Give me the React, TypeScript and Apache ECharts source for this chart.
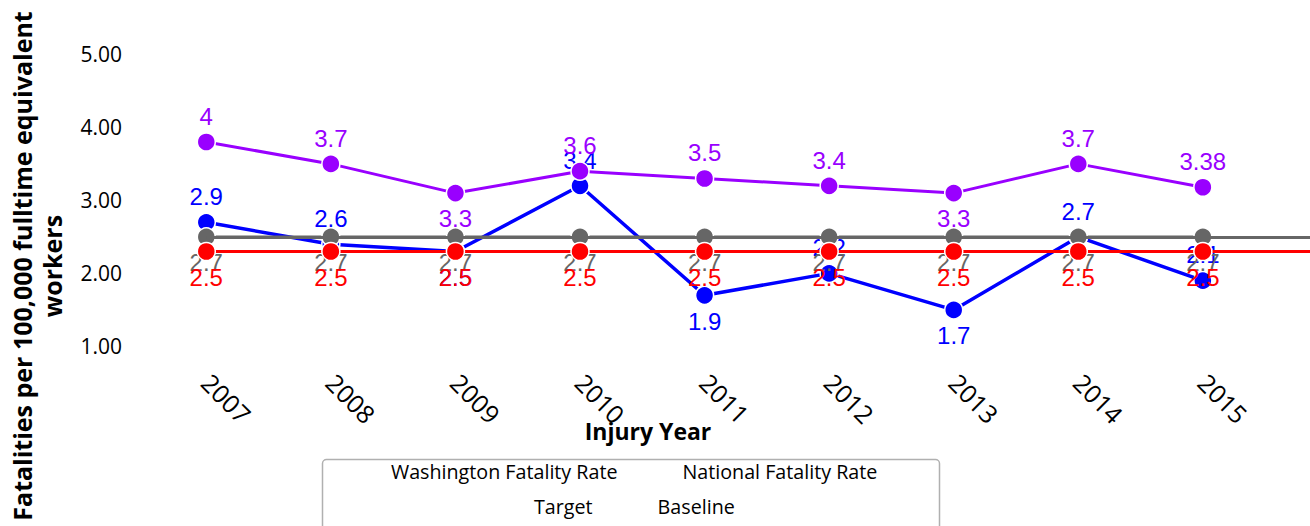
import React, { useEffect, useRef } from 'react';
import * as echarts from 'echarts';

const years = [2007, 2008, 2009, 2010, 2011, 2012, 2013, 2014, 2015];
const washington = [2.9, 2.6, 2.5, 3.4, 1.9, 2.2, 1.7, 2.7, 2.1];
const national = [4, 3.7, 3.3, 3.6, 3.5, 3.4, 3.3, 3.7, 3.38];
const target = [2.5, 2.5, 2.5, 2.5, 2.5, 2.5, 2.5, 2.5, 2.5];
const baseline = [2.7, 2.7, 2.7, 2.7, 2.7, 2.7, 2.7, 2.7, 2.7];
const washingtonLabelPos = ['top', 'top', 'bottom', 'top', 'bottom', 'top', 'bottom', 'top', 'top'];
const nationalLabelPos = ['top', 'top', 'bottom', 'top', 'top', 'top', 'bottom', 'top', 'top'];
const legendRow1 = ['Washington Fatality Rate', 'National Fatality Rate'];
const legendRow2 = ['Target', 'Baseline'];

const X_MIN = 2006.5;
const X_MAX = 2015.86;

const LABEL_FONT = "'Liberation Sans', Arial, sans-serif";
const UI_FONT = "'Open Sans', 'Noto Sans', sans-serif";

function makeSeries(name: string, values: number[], color: string, positions: string[], z: number, width: number, extend = false) {
  const s: any = {
    name,
    type: 'line',
    z,
    symbol: 'circle',
    symbolSize: 18,
    data: years.map((y, i) => ({ value: [y, values[i]], label: { position: positions[i] } })),
    itemStyle: { color, borderColor: '#ffffff', borderWidth: 1.5 },
    lineStyle: { color, width },
    label: {
      show: true,
      color,
      fontSize: 24,
      fontFamily: LABEL_FONT,
      distance: 4,
      formatter: (p: any) => String(p.value[1]),
    },
    emphasis: { disabled: true },
  };
  if (extend) {
    s.markLine = {
      silent: true,
      symbol: ['none', 'none'],
      label: { show: false },
      lineStyle: { color, width, type: 'solid' },
      emphasis: { disabled: true },
      data: [[{ coord: [years[0], values[0]] }, { coord: [X_MAX, values[values.length - 1]] }]],
    };
  }
  return s;
}

export default function App() {
  const ref = useRef<HTMLDivElement>(null);
  useEffect(() => {
    if (!ref.current) return;
    const chart = echarts.init(ref.current, null, { renderer: 'svg' });
    const allBottom = years.map(() => 'bottom');
    chart.setOption({
      animation: false,
      backgroundColor: '#ffffff',
      grid: { left: 144, right: 0, top: 69, bottom: 165, containLabel: false, outerBoundsMode: 'none' },
      xAxis: {
        type: 'value',
        min: X_MIN,
        max: X_MAX,
        interval: 0.5,
        axisLine: { show: false },
        axisTick: { show: false },
        splitLine: { show: false },
        axisLabel: {
          rotate: -45,
          margin: 17,
          fontSize: 25,
          fontFamily: UI_FONT,
          color: '#000',
          showMinLabel: true,
          showMaxLabel: true,
          formatter: (v: number) => (Number.isInteger(v) && years.includes(v) ? String(v) : ''),
        },
        name: 'Injury Year',
        nameLocation: 'middle',
        nameGap: 58,
        nameMoveOverlap: false,
        nameTextStyle: { fontSize: 23, fontWeight: 'bold', fontFamily: UI_FONT, color: '#000', padding: [0, 158, 0, 0] },
      },
      yAxis: {
        type: 'value',
        min: 1,
        max: 5,
        interval: 1,
        axisLine: { show: false },
        axisTick: { show: false },
        splitLine: { show: false },
        axisLabel: {
          fontSize: 21,
          fontFamily: UI_FONT,
          color: '#000',
          margin: 22,
          verticalAlign: 'bottom',
          lineHeight: 30,
          formatter: (v: number) => v.toFixed(2),
        },
        name: 'Fatalities per 100,000 fulltime equivalent\nworkers',
        nameLocation: 'middle',
        nameGap: 77,
        nameMoveOverlap: false,
        nameTextStyle: { fontSize: 25, fontWeight: 'bold', fontFamily: UI_FONT, color: '#000', lineHeight: 30, padding: [0, 102, 0, 0] },
      },
      legend: [
        {
          data: legendRow1,
          left: 385,
          top: 461,
          padding: 0,
          itemWidth: 0,
          itemHeight: 0,
          itemGap: 59,
          selectedMode: false,
          textStyle: { fontSize: 19.7, fontFamily: UI_FONT, color: '#000' },
        },
        {
          data: legendRow2,
          left: 528,
          top: 496,
          padding: 0,
          itemWidth: 0,
          itemHeight: 0,
          itemGap: 59,
          selectedMode: false,
          textStyle: { fontSize: 19.7, fontFamily: UI_FONT, color: '#000' },
        },
      ],
      graphic: [
        {
          type: 'rect',
          left: 320,
          top: 457,
          silent: true,
          shape: { width: 617, height: 90, r: 4 },
          style: { fill: 'none', stroke: '#b0b0b0', lineWidth: 1.5 },
        },
      ],
      series: [
        makeSeries('Washington Fatality Rate', washington, '#0000ff', washingtonLabelPos, 2, 3.5),
        makeSeries('National Fatality Rate', national, '#9900ff', nationalLabelPos, 3, 3),
        makeSeries('Baseline', baseline, '#666666', allBottom, 4, 3, true),
        makeSeries('Target', target, '#ff0000', allBottom, 5, 3, true),
      ],
    });
    return () => chart.dispose();
  }, []);
  return <div ref={ref} style={{ position: 'absolute', left: 0, top: 0, width: 1310, height: 526 }} />;
}
